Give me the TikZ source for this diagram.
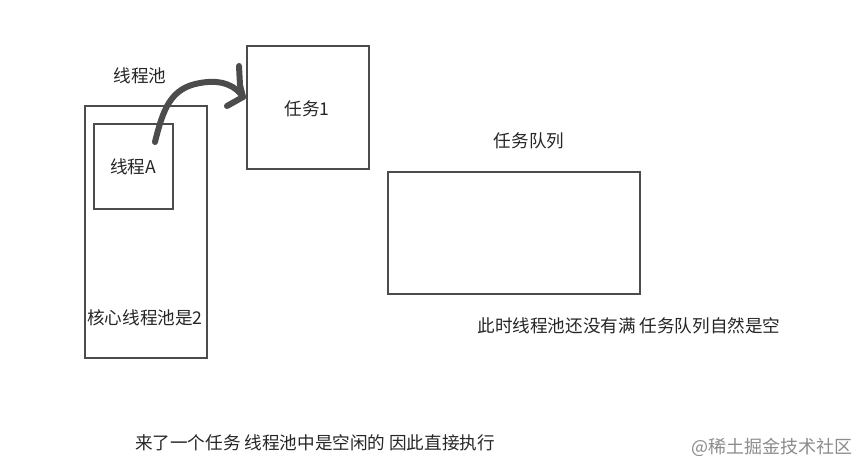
\documentclass[tikz,border=0pt]{standalone}
\usepackage{fontspec}
\setmainfont{Noto Sans CJK SC}
\begin{document}
\begin{tikzpicture}[x=0.75pt,y=-0.75pt,
  box/.style={draw=black!70,line width=1.6pt},
  lbl/.style={font=\fontsize{13.2pt}{15pt}\selectfont,text=black!85,inner sep=0pt},
  pen/.style={draw=black!70,line width=4.5pt,line cap=round,line join=round}]
\useasboundingbox (0,0) rectangle (856,466);
\fill[white] (0,0) rectangle (856,466);
\draw[box] (85,106) rectangle (207,358);
\draw[box] (94,124) rectangle (173,209);
\draw[box] (247,46) rectangle (369,169);
\draw[box] (388,172) rectangle (640,294);
\node[lbl] (pool) at (140,76) {线程池};
\node[lbl] (ta) at (133,167) {线程A};
\node[lbl] (t1) at (307,109) {任务1};
\node[lbl] (q) at (529,141) {任务队列};
\node[lbl] (core) at (145,318) {核心线程池是2};
\node[lbl] (note) at (629,326) {此时线程池还没有满 任务队列自然是空};
\node[lbl] (bottom) at (315,443) {来了一个任务 线程池中是空闲的 因此直接执行};
\node[lbl,text=black!45,font=\fontsize{13.5pt}{15pt}\selectfont] (wm) at (772,447) {@稀土掘金技术社区};
\coordinate (s) at (155,142);
\coordinate (e) at (243,97);
\draw[pen] (s) .. controls (163,110) and (170,88) .. (200,83) .. controls (222,79) and (236,86) .. (e);
\draw[pen] (239,66) -- (240,85) -- (e) -- (227,106);
\end{tikzpicture}
\end{document}
